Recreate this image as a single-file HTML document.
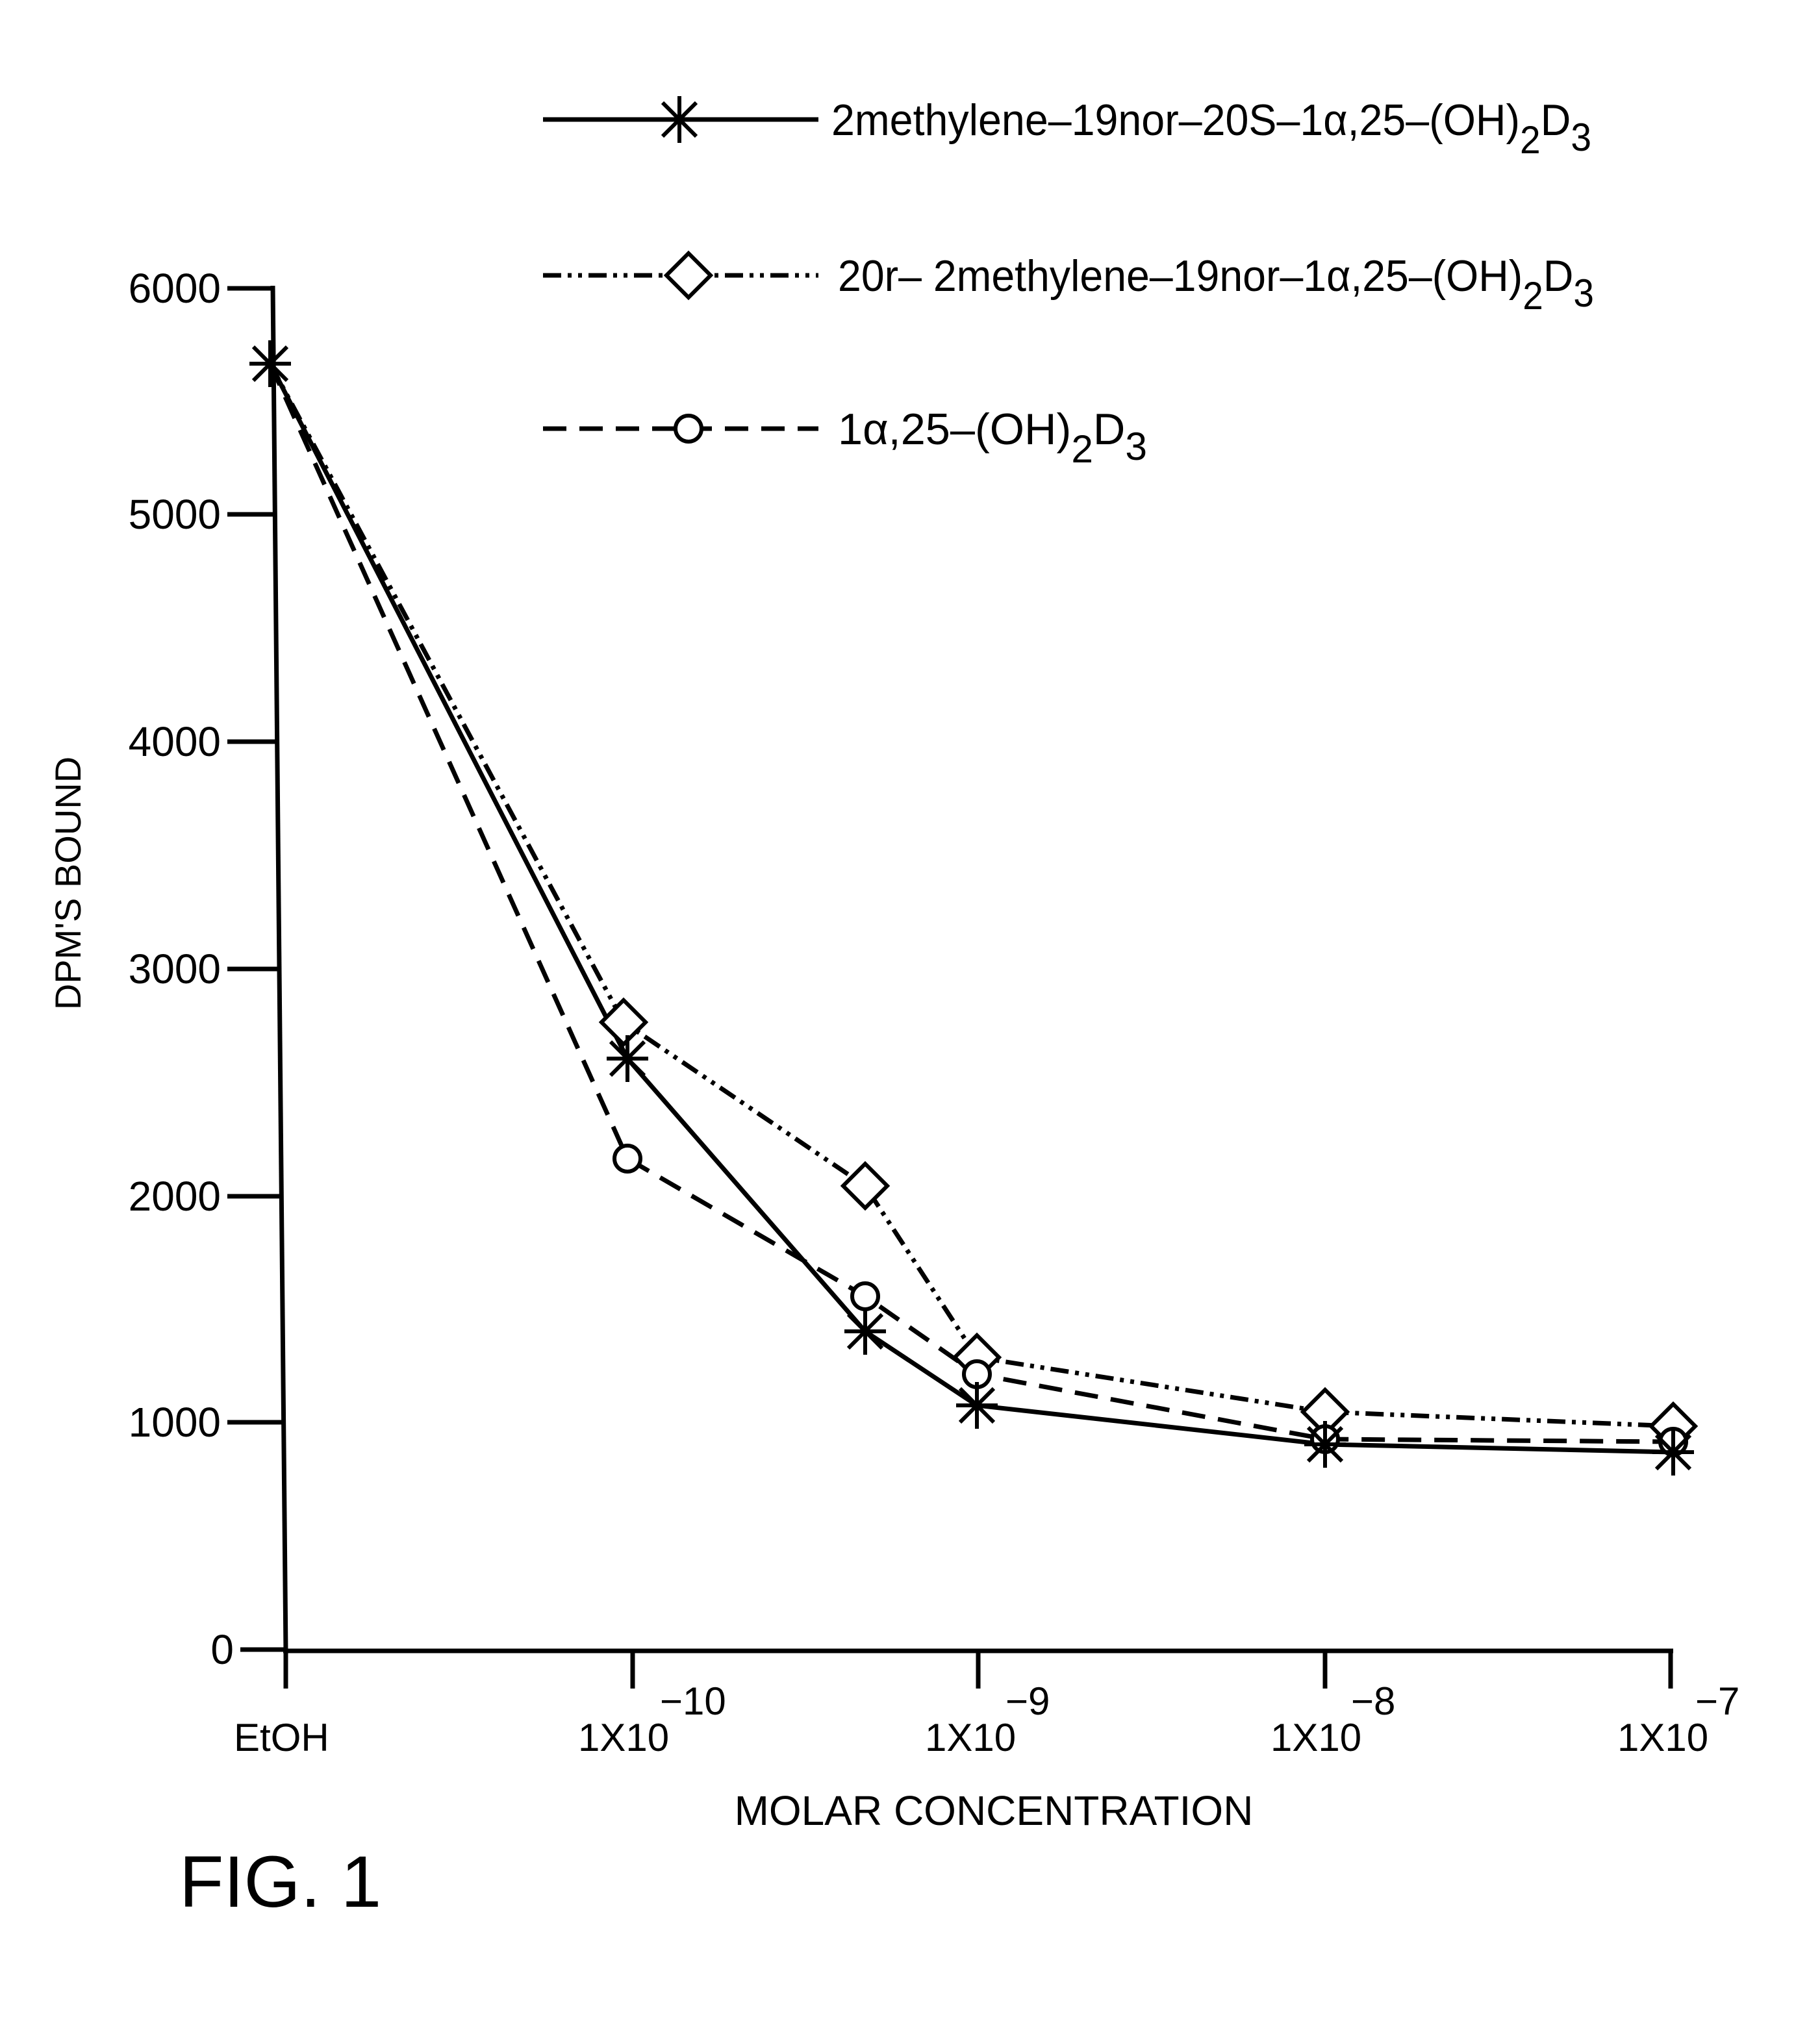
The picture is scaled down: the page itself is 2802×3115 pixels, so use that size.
<!DOCTYPE html>
<html><head><meta charset="utf-8"><style>
html,body{margin:0;padding:0;background:#fff;}
svg{display:block;}
text{font-family:"Liberation Sans Narrow","Liberation Sans",sans-serif;fill:#000;}
</style></head><body>
<svg width="2802" height="3115" viewBox="0 0 1401 1557.5" xmlns="http://www.w3.org/2000/svg">
<g stroke="#000" stroke-width="3.5" fill="none">
<line x1="210" y1="220" x2="220" y2="1272"/>
<line x1="218" y1="1271" x2="1288" y2="1271"/>
<line x1="175" y1="222" x2="210" y2="222"/>
<line x1="175" y1="396" x2="211" y2="396"/>
<line x1="175" y1="571" x2="213" y2="571"/>
<line x1="175" y1="746" x2="214" y2="746"/>
<line x1="175" y1="921" x2="216" y2="921"/>
<line x1="175" y1="1095" x2="218" y2="1095"/>
<line x1="185" y1="1270" x2="220" y2="1270"/>
<line x1="220" y1="1270" x2="220" y2="1300"/>
<line x1="487" y1="1270" x2="487" y2="1300"/>
<line x1="753" y1="1270" x2="753" y2="1300"/>
<line x1="1020" y1="1270" x2="1020" y2="1300"/>
<line x1="1286" y1="1270" x2="1286" y2="1300"/>
</g>
<g font-size="32" text-anchor="end">
<text x="170" y="233">6000</text><text x="170" y="407">5000</text><text x="170" y="582">4000</text>
<text x="170" y="757">3000</text><text x="170" y="932">2000</text><text x="170" y="1106">1000</text>
<text x="180" y="1281">0</text>
</g>
<text font-size="28" transform="translate(62,680) rotate(-90)" text-anchor="middle">DPM'S BOUND</text>
<g font-size="30">
<text x="180" y="1348">EtOH</text>
<text x="445" y="1348">1X10</text><text x="508" y="1320">−10</text>
<text x="712" y="1348">1X10</text><text x="774" y="1320">−9</text>
<text x="978" y="1348">1X10</text><text x="1040" y="1320">−8</text>
<text x="1245" y="1348">1X10</text><text x="1305" y="1320">−7</text>
</g>
<text x="765" y="1405" font-size="32" text-anchor="middle">MOLAR CONCENTRATION</text>
<text x="138" y="1468" font-size="56">FIG. 1</text>
<g fill="none" stroke="#000" stroke-width="3.5">
<polyline points="208,280 483,815 666,1025 752,1082 1020,1112 1288,1118"/>
<polyline stroke-dasharray="14,5,3,5,3,5" points="208,280 480,787 666,913 752,1045 1020,1087 1288,1098"/>
<polyline stroke-dasharray="18,10" points="208,280 483,892 666,998 752,1058 1020,1108 1288,1110"/>
</g>
<defs>
<g id="st" stroke="#000" stroke-width="3"><line x1="-16" y1="0" x2="16" y2="0"/><line x1="0" y1="-18" x2="0" y2="18"/><line x1="-13" y1="-13" x2="13" y2="13"/><line x1="-13" y1="13" x2="13" y2="-13"/></g>
<path id="dm" d="M0,-17 L17,0 L0,17 L-17,0 Z" fill="#fff" stroke="#000" stroke-width="3"/>
<circle id="ci" r="10" fill="#fff" stroke="#000" stroke-width="3"/>
</defs>
<use href="#dm" x="480" y="787"/><use href="#dm" x="666" y="913"/><use href="#dm" x="752" y="1045"/><use href="#dm" x="1020" y="1087"/><use href="#dm" x="1288" y="1098"/>
<use href="#ci" x="483" y="892"/><use href="#ci" x="666" y="998"/><use href="#ci" x="752" y="1058"/><use href="#ci" x="1020" y="1108"/><use href="#ci" x="1288" y="1110"/>
<use href="#st" x="208" y="280"/><use href="#st" x="483" y="815"/><use href="#st" x="666" y="1025"/><use href="#st" x="752" y="1082"/><use href="#st" x="1020" y="1112"/><use href="#st" x="1288" y="1118"/>
<g fill="none" stroke="#000" stroke-width="3.5">
<line x1="418" y1="92" x2="630" y2="92"/>
<line x1="418" y1="212" x2="630" y2="212" stroke-dasharray="14,5,3,5,3,5"/>
<line x1="418" y1="330" x2="630" y2="330" stroke-dasharray="18,10"/>
</g>
<use href="#st" x="523" y="92"/><use href="#dm" x="530" y="212"/><use href="#ci" x="530" y="330"/>
<g font-size="34">
<text x="640" y="104" textLength="585" lengthAdjust="spacingAndGlyphs">2methylene–19nor–20S–1α,25–(OH)<tspan font-size="30" dy="14">2</tspan><tspan dy="-14">D</tspan><tspan font-size="30" dy="12">3</tspan></text>
<text x="645" y="224" textLength="582" lengthAdjust="spacingAndGlyphs">20r– 2methylene–19nor–1α,25–(OH)<tspan font-size="30" dy="14">2</tspan><tspan dy="-14">D</tspan><tspan font-size="30" dy="12">3</tspan></text>
<text x="645" y="342" textLength="238" lengthAdjust="spacingAndGlyphs">1α,25–(OH)<tspan font-size="30" dy="14">2</tspan><tspan dy="-14">D</tspan><tspan font-size="30" dy="12">3</tspan></text>
</g>
</svg>
</body></html>
